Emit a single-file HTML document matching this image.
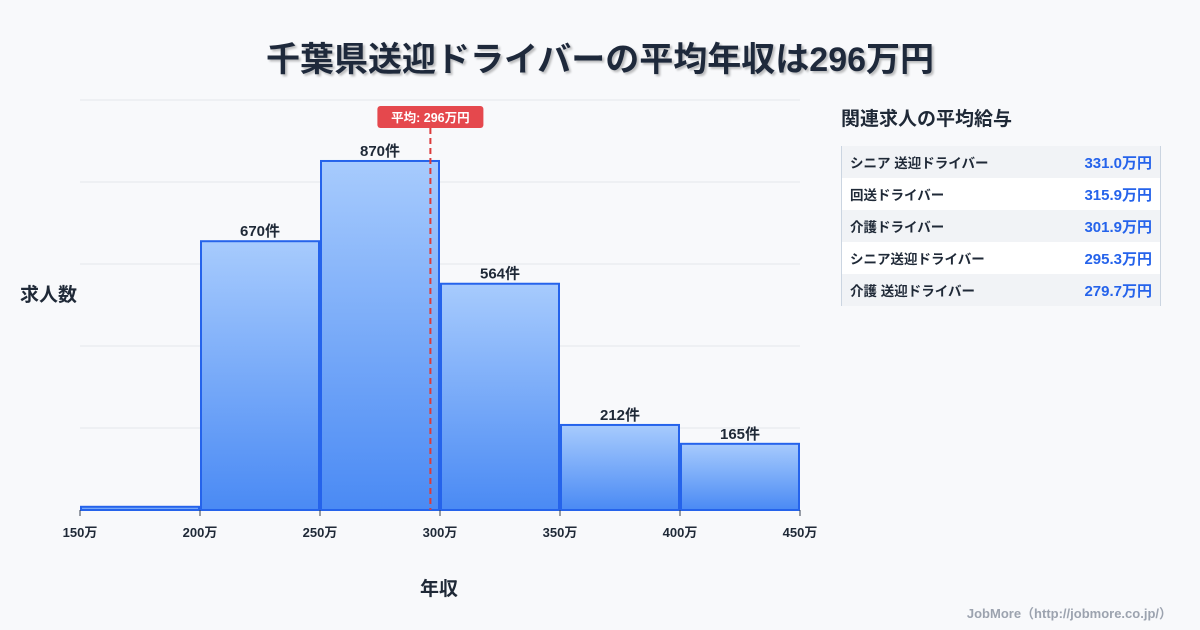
<!DOCTYPE html>
<html><head><meta charset="utf-8"><style>
body{margin:0;width:1200px;height:630px;background:#f8f9fb;font-family:"Liberation Sans","Noto Sans CJK JP",sans-serif;position:relative;overflow:hidden;color:#1f2937}
.t{position:absolute;font-weight:700}
</style></head><body>
<div class="t" style="left:0;width:1200px;top:32px;text-align:center;font-size:34px;color:#1e293b;text-shadow:2px 2px 2px rgba(0,0,0,0.25)">千葉県送迎ドライバーの平均年収は296万円</div>
<svg id="c" width="1200" height="630" style="position:absolute;left:0;top:0">
<defs><linearGradient id="g" x1="0" y1="0" x2="0" y2="1"><stop offset="0" stop-color="#a7cbfd"/><stop offset="1" stop-color="#4a8af4"/></linearGradient></defs>
</svg>
<div class="t" style="left:20px;top:280px;font-size:19px">求人数</div>
<div class="t" style="left:420px;top:574px;font-size:19px">年収</div>
<div class="t" style="left:841px;top:104px;font-size:19px">関連求人の平均給与</div>
<div style="position:absolute;left:841px;top:146px;width:318px;border-left:1px solid #cbd5e1;border-right:1px solid #cbd5e1;font-size:13.5px;font-weight:700">
<div style="height:32px;background:#f1f3f6;display:flex;justify-content:space-between;align-items:center;padding:0 8px"><span>シニア 送迎ドライバー</span><span style="color:#2563eb;font-size:15px">331.0万円</span></div>
<div style="height:32px;background:#fff;display:flex;justify-content:space-between;align-items:center;padding:0 8px"><span>回送ドライバー</span><span style="color:#2563eb;font-size:15px">315.9万円</span></div>
<div style="height:32px;background:#f1f3f6;display:flex;justify-content:space-between;align-items:center;padding:0 8px"><span>介護ドライバー</span><span style="color:#2563eb;font-size:15px">301.9万円</span></div>
<div style="height:32px;background:#fff;display:flex;justify-content:space-between;align-items:center;padding:0 8px"><span>シニア送迎ドライバー</span><span style="color:#2563eb;font-size:15px">295.3万円</span></div>
<div style="height:32px;background:#f1f3f6;display:flex;justify-content:space-between;align-items:center;padding:0 8px"><span>介護 送迎ドライバー</span><span style="color:#2563eb;font-size:15px">279.7万円</span></div>
</div>
<div class="t" style="right:28px;top:603px;font-size:13px;color:#9ca3af">JobMore（http://jobmore.co.jp/）</div>
<script>
const binStarts=[150,200,250,300,350,400];
const binWidth=50;
const counts=[8,670,870,564,212,165];
const labels=["","670件","870件","564件","212件","165件"];
const xTicks=[150,200,250,300,350,400,450];
const meanValue=296;
const meanLabel="平均: 296万円";
const NS="http://www.w3.org/2000/svg",svg=document.getElementById('c');
const x0=80,x1=800,base=510,yTop=100,xmin=150,xmax=450,ymax=1022;
const X=v=>x0+(v-xmin)/(xmax-xmin)*(x1-x0);
const Y=v=>base-v/ymax*(base-yTop);
function mk(t,a){const e=document.createElementNS(NS,t);for(const k in a)e.setAttribute(k,a[k]);svg.appendChild(e);return e;}
for(let i=0;i<=5;i++){const y=yTop+i*(base-yTop)/5;
const l=mk('line',{x1:x0,x2:x1,y1:y,y2:y,stroke:'#e5e7eb','stroke-width':1});

}
counts.forEach((c,i)=>{const a=X(binStarts[i])+1,b=X(binStarts[i]+binWidth)-1;
const r=mk('rect',{x:a,y:Y(c),width:b-a,height:base-Y(c),fill:'url(#g)',stroke:'#2563eb','stroke-width':2});


if(labels[i]){const t=mk('text',{x:(a+b)/2,y:Y(c)-5,'text-anchor':'middle','font-size':15,'font-weight':700,fill:'#1f2937'});t.textContent=labels[i];

}});
xTicks.forEach(v=>{const l=mk('line',{x1:X(v),x2:X(v),y1:base,y2:base+6,stroke:'#374151','stroke-width':1});


const t=mk('text',{x:X(v),y:base+27,'text-anchor':'middle','font-size':13,'font-weight':700,fill:'#1f2937'});t.textContent=v+'万';

});
const mx=X(meanValue);
const ml=mk('line',{x1:mx,x2:mx,y1:128,y2:base,stroke:'#dc3b3b','stroke-width':2,'stroke-dasharray':'6,4'});


const mr=mk('rect',{x:mx-53,y:106,width:106,height:22,rx:3,fill:'#e5484d'});


const mt=mk('text',{x:mx,y:122,'text-anchor':'middle','font-size':12.5,'font-weight':700,fill:'#fff'});mt.textContent=meanLabel;


</script>
</body></html>
